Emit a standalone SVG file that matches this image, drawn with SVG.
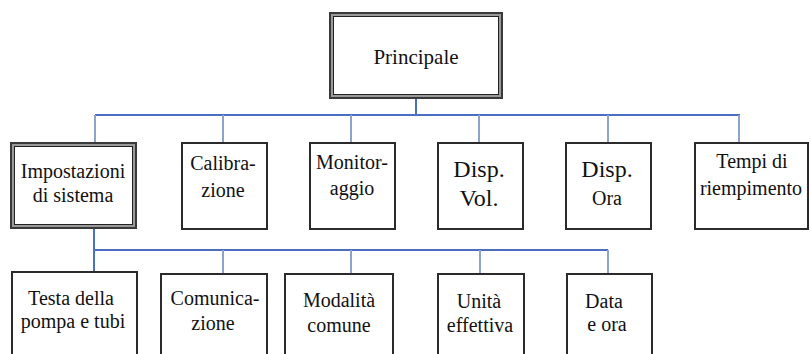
<svg xmlns="http://www.w3.org/2000/svg" width="810" height="354" viewBox="0 0 810 354">
<style>
.box{fill:#fff;stroke:#2b2b2b;stroke-width:2}
.o1{fill:#fff;stroke:#3a3a3a;stroke-width:2}
.o2{fill:none;stroke:#9a9a9a;stroke-width:2}
.o3{fill:none;stroke:#222;stroke-width:1}
text{font-family:'Liberation Serif','Tinos','DejaVu Serif','Noto Serif',serif;font-size:20px;fill:#111;text-anchor:middle}
.big{font-size:24px}
.con{fill:none;stroke:#4a6fc0;stroke-width:2}
.con2{fill:none;stroke:#8ea3c9;stroke-width:2}
</style>
<rect width="810" height="354" fill="#fff"/>
<g id="connectors">
<path class="con" d="M416 99V115M95 115H740"/>
<path class="con2" d="M95 115V142M223 115V142M351 115V142M479 115V142M608 115V142M739 115V142"/>
<path class="con" d="M94 229V271M94 250H608"/>
<path class="con2" d="M223 250V273M351 250V273M480 250V273M608 250V273"/>
</g>
<g id="principale">
<rect class="o1" x="330" y="13" width="172" height="85"/>
<rect class="o2" x="332" y="15" width="168" height="81"/>
<rect class="o3" x="333.5" y="16.5" width="165" height="78"/>
<text x="416" y="64" style="font-size:21px">Principale</text>
</g>
<g id="impostazioni">
<rect class="o1" x="11" y="143" width="125" height="85"/>
<rect class="o2" x="13" y="145" width="121" height="81"/>
<rect class="o3" x="14.5" y="146.5" width="118" height="78"/>
<text x="73" y="178">Impostazioni</text>
<text x="73" y="202">di sistema</text>
</g>
<g id="calibrazione">
<rect class="box" x="182" y="143" width="85" height="86"/>
<text x="223" y="170">Calibra-</text>
<text x="223" y="197">zione</text>
</g>
<g id="monitoraggio">
<rect class="box" x="310" y="143" width="85" height="86"/>
<text x="352" y="169">Monitor-</text>
<text x="352" y="195">aggio</text>
</g>
<g id="dispvol">
<rect class="box" x="438" y="143" width="85" height="86"/>
<text class="big" x="479" y="177">Disp.</text>
<text class="big" x="479" y="206">Vol.</text>
</g>
<g id="dispora">
<rect class="box" x="566" y="143" width="85" height="86"/>
<text class="big" x="607" y="177">Disp.</text>
<text x="607" y="205">Ora</text>
</g>
<g id="tempi">
<rect class="box" x="695" y="143" width="113" height="86"/>
<text x="752" y="168">Tempi di</text>
<text x="751" y="195">riempimento</text>
</g>
<g id="testa">
<rect class="box" x="12" y="272" width="125" height="90"/>
<text x="71" y="305">Testa della</text>
<text x="73" y="328">pompa e tubi</text>
</g>
<g id="comunicazione">
<rect class="box" x="161" y="274" width="106" height="90"/>
<text x="215" y="305">Comunica-</text>
<text x="213" y="330">zione</text>
</g>
<g id="modalita">
<rect class="box" x="285" y="274" width="108" height="90"/>
<text x="339" y="307">Modalità</text>
<text x="339" y="332">comune</text>
</g>
<g id="unita">
<rect class="box" x="438" y="274" width="86" height="90"/>
<text x="479" y="308">Unità</text>
<text x="480" y="332">effettiva</text>
</g>
<g id="dataora">
<rect class="box" x="567" y="274" width="85" height="90"/>
<text x="604" y="308">Data</text>
<text x="607" y="331">e ora</text>
</g>
</svg>
